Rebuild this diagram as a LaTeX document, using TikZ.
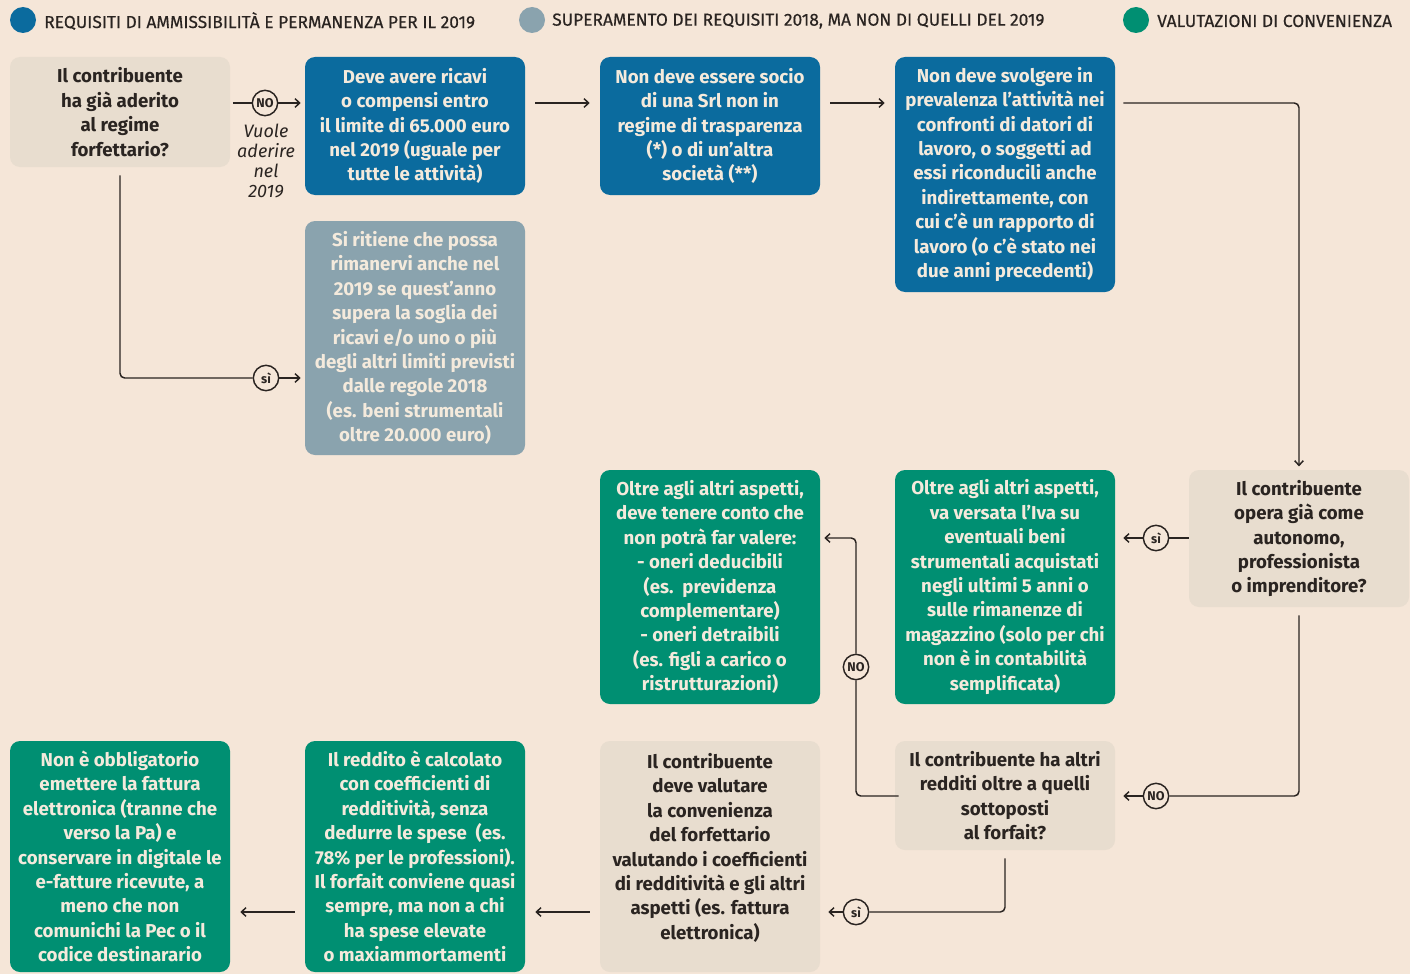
\documentclass[tikz,border=0pt]{standalone}
\usepackage{fontspec}
\setmainfont{Fira Sans}
\usetikzlibrary{arrows.meta}
\definecolor{bg}{HTML}{F5E6D8}
\definecolor{cblue}{HTML}{0B6B9E}
\definecolor{cgrey}{HTML}{8AA3AE}
\definecolor{cgreen}{HTML}{008F72}
\definecolor{cbeige}{HTML}{E8DDCF}
\definecolor{cream}{HTML}{F4EADC}
\definecolor{ink}{HTML}{2A2421}
\begin{document}
\begin{tikzpicture}[x=0.75pt,y=-0.75pt,
  box/.style={rounded corners=7.5pt, minimum width=165pt, align=center,
    font=\fontsize{14}{18.3}\selectfont\bfseries, inner sep=0pt},
  bluebox/.style={box, fill=cblue, text=cream},
  greybox/.style={box, fill=cgrey, text=cream},
  greenbox/.style={box, fill=cgreen, text=cream},
  beigebox/.style={box, fill=cbeige, text=ink},
  circ/.style={circle, draw=ink, line width=1.1pt, fill=bg, minimum size=19pt,
    inner sep=0pt, text=ink, font=\fontsize{9.5}{10}\selectfont\bfseries},
  legdot/.style={circle, minimum size=19.5pt, inner sep=0pt},
  legtext/.style={anchor=west, inner sep=0pt, text=ink, font=\fontsize{13}{14}\selectfont\addfontfeature{FakeBold=0.4}},
  conn/.style={draw=ink, line width=1.1pt, rounded corners=3.5pt},
  arr/.style={conn, -{Straight Barb[length=3.5pt,width=6.5pt]}},
]
\fill[bg] (0,0) rectangle (1410,974);
\useasboundingbox (0,0) rectangle (1410,974);

% legend
\node[legdot, fill=cblue] (l1) at (23,20) {};
\node[legtext] (lt1) at (44,21) {REQUISITI DI AMMISSIBILITÀ E PERMANENZA PER IL 2019};
\node[legdot, fill=cgrey] (l2) at (532,20) {};
\node[legtext] (lt2) at (552,21) {SUPERAMENTO DEI REQUISITI 2018, MA NON DI QUELLI DEL 2019};
\node[legdot, fill=cgreen] (l3) at (1136,20) {};
\node[legtext] (lt3) at (1157,21) {VALUTAZIONI DI CONVENIENZA};

% boxes
\node[beigebox, minimum height=82.5pt] (A) at (120,112) {Il contribuente\\ha già aderito\\al regime\\forfettario?};
\node[bluebox, minimum height=103.5pt] (B) at (415,126) {Deve avere ricavi\\o compensi entro\\il limite di 65.000 euro\\nel 2019 (uguale per\\tutte le attività)};
\node[bluebox, minimum height=103.5pt] (C) at (710,126) {Non deve essere socio\\di una Srl non in\\regime di trasparenza\\(*) o di un’altra\\società (**)};
\node[bluebox, minimum height=176.25pt] (D) at (1005,174.5) {Non deve svolgere in\\prevalenza l’attività nei\\confronti di datori di\\lavoro, o soggetti ad\\essi riconducili anche\\indirettamente, con\\cui c’è un rapporto di\\lavoro (o c’è stato nei\\due anni precedenti)};
\node[greybox, minimum height=175.5pt] (E) at (415,338) {Si ritiene che possa\\rimanervi anche nel\\2019 se quest’anno\\supera la soglia dei\\ricavi e/o uno o più\\degli altri limiti previsti\\dalle regole 2018\\(es. beni strumentali\\oltre 20.000 euro)};
\node[beigebox, minimum height=102.75pt] (F) at (1299,538.5) {Il contribuente\\opera già come\\autonomo,\\professionista\\o imprenditore?};
\node[greenbox, minimum height=175.5pt] (G) at (1005,587) {Oltre agli altri aspetti,\\va versata l’Iva su\\eventuali beni\\strumentali acquistati\\negli ultimi 5 anni o\\sulle rimanenze di\\magazzino (solo per chi\\non è in contabilità\\semplificata)};
\node[greenbox, minimum height=175.5pt] (H) at (710,587) {Oltre agli altri aspetti,\\deve tenere conto che\\non potrà far valere:\\- oneri deducibili\\(es.\ \ previdenza\\complementare)\\- oneri detraibili\\(es. figli a carico o\\ristrutturazioni)};
\node[beigebox, minimum height=81.75pt] (I) at (1005,795.5) {Il contribuente ha altri\\redditi oltre a quelli\\sottoposti\\al forfait?};
\node[beigebox, minimum height=173.25pt] (J) at (710,856.5) {Il contribuente\\deve valutare\\la convenienza\\del forfettario\\valutando i coefficienti\\di redditività e gli altri\\aspetti (es. fattura\\elettronica)\\[-3pt]~};
\node[greenbox, minimum height=173.25pt] (K) at (415,856.5) {Il reddito è calcolato\\con coefficienti di\\redditività, senza\\dedurre le spese\ \ (es.\\78\% per le professioni).\\Il forfait conviene quasi\\sempre, ma non a chi\\ha spese elevate\\o maxiammortamenti};
\node[greenbox, minimum height=173.25pt] (L) at (120,856.5) {Non è obbligatorio\\emettere la fattura\\elettronica (tranne che\\verso la Pa) e\\conservare in digitale le\\e-fatture ricevute, a\\meno che non\\comunichi la Pec o il\\codice destinarario};

% decision circles
\node[circ] (n1) at (265,103) {NO};
\node[circ] (n2) at (266,378) {sì};
\node[circ] (n3) at (1156,538) {sì};
\node[circ] (n4) at (1156,796) {NO};
\node[circ] (n5) at (856,667) {NO};
\node[circ] (n6) at (856,912) {sì};
\coordinate (r1) at (0,103);
\coordinate (hx) at (856,538);

\node[align=center, inner sep=0pt, text=ink, font=\fontsize{13.5}{15}\selectfont\itshape] (lab) at (266,161) {Vuole\\aderire\\nel\\2019};

% connectors
\draw[conn, shorten <=2pt] (A.east |- n1) -- (n1);
\draw[arr, shorten >=3pt] (n1) -- (B.west |- n1);
\draw[conn, shorten <=6pt] (A.south) |- (n2);
\draw[arr, shorten >=3pt] (n2) -- (E.west |- n2);
\draw[arr, shorten <=7.5pt, shorten >=7.5pt] (B.east |- r1) -- (C.west |- r1);
\draw[arr, shorten <=7.5pt, shorten >=7.5pt] (C.east |- r1) -- (D.west |- r1);
\draw[arr, shorten <=6pt, shorten >=2.5pt] (D.east |- r1) -| (F.north);
\draw[conn] (F.west |- n3) -- (n3);
\draw[arr, shorten >=6pt] (n3) -- (G.east |- n3);
\draw[conn, shorten <=6pt] (F.south) |- (n4);
\draw[arr, shorten >=6pt] (n4) -- (I.east |- n4);
\draw[conn, shorten <=-3pt] (I.west |- n4) -| (n5);
\draw[arr, shorten >=3pt] (n5) |- (H.east |- hx);
\draw[conn, shorten <=6pt] (I.south) |- (n6);
\draw[arr, shorten >=6pt] (n6) -- (J.east |- n6);
\draw[arr, shorten <=7.5pt, shorten >=7.5pt] (J.west |- n6) -- (K.east |- n6);
\draw[arr, shorten <=7.5pt, shorten >=7.5pt] (K.west |- n6) -- (L.east |- n6);
\end{tikzpicture}
\end{document}
